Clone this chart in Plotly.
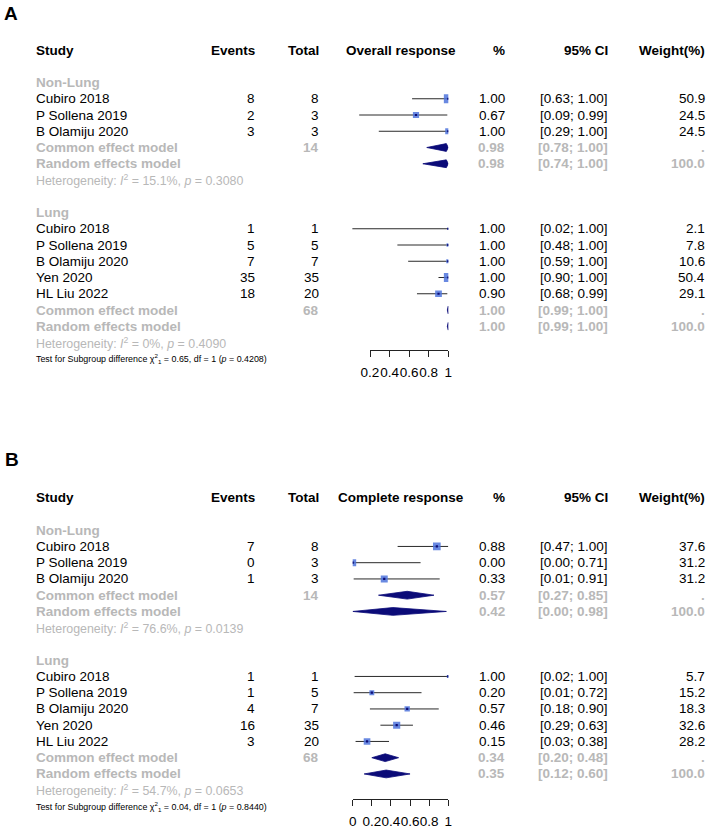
import plotly.graph_objects as go

W, H = 709, 830
ROW = 16.25
FONT = "Liberation Sans, Arial, sans-serif"
GRAY = "#b8b8b8"
SQ = "#4f74dc"
NAVY = "#0b0b78"
FS = 13.5

# ---------------- Panel A : Overall response ----------------
A_title = "Overall response"
A_nl_study = ["Cubiro 2018", "P Sollena 2019", "B Olamiju 2020"]
A_nl_events = [8, 2, 3]
A_nl_total = [8, 3, 3]
A_nl_prop = [1.00, 0.67, 1.00]
A_nl_lo = [0.63, 0.09, 0.29]
A_nl_hi = [1.00, 0.99, 1.00]
A_nl_w = [50.9, 24.5, 24.5]
A_nl_common = [0.98, 0.78, 1.00]
A_nl_random = [0.98, 0.74, 1.00]
A_nl_n = 14
A_nl_het = ["15.1%", "0.3080"]

A_lu_study = ["Cubiro 2018", "P Sollena 2019", "B Olamiju 2020", "Yen 2020", "HL Liu 2022"]
A_lu_events = [1, 5, 7, 35, 18]
A_lu_total = [1, 5, 7, 35, 20]
A_lu_prop = [1.00, 1.00, 1.00, 1.00, 0.90]
A_lu_lo = [0.02, 0.48, 0.59, 0.90, 0.68]
A_lu_hi = [1.00, 1.00, 1.00, 1.00, 0.99]
A_lu_w = [2.1, 7.8, 10.6, 50.4, 29.1]
A_lu_common = [1.00, 0.99, 1.00]
A_lu_random = [1.00, 0.99, 1.00]
A_lu_n = 68
A_lu_het = ["0%", "0.4090"]
A_test = ["0.65", "1", "0.4208"]
A_tickvals = [0.2, 0.4, 0.6, 0.8, 1.0]
A_ticktext = ["0.2", "0.4", "0.6", "0.8", "1"]

# ---------------- Panel B : Complete response ----------------
B_title = "Complete response"
B_nl_study = ["Cubiro 2018", "P Sollena 2019", "B Olamiju 2020"]
B_nl_events = [7, 0, 1]
B_nl_total = [8, 3, 3]
B_nl_prop = [0.88, 0.00, 0.33]
B_nl_lo = [0.47, 0.00, 0.01]
B_nl_hi = [1.00, 0.71, 0.91]
B_nl_w = [37.6, 31.2, 31.2]
B_nl_common = [0.57, 0.27, 0.85]
B_nl_random = [0.42, 0.00, 0.98]
B_nl_n = 14
B_nl_het = ["76.6%", "0.0139"]

B_lu_study = ["Cubiro 2018", "P Sollena 2019", "B Olamiju 2020", "Yen 2020", "HL Liu 2022"]
B_lu_events = [1, 1, 4, 16, 3]
B_lu_total = [1, 5, 7, 35, 20]
B_lu_prop = [1.00, 0.20, 0.57, 0.46, 0.15]
B_lu_lo = [0.02, 0.01, 0.18, 0.29, 0.03]
B_lu_hi = [1.00, 0.72, 0.90, 0.63, 0.38]
B_lu_w = [5.7, 15.2, 18.3, 32.6, 28.2]
B_lu_common = [0.34, 0.20, 0.48]
B_lu_random = [0.35, 0.12, 0.60]
B_lu_n = 68
B_lu_het = ["54.7%", "0.0653"]
B_test = ["0.04", "1", "0.8440"]
B_tickvals = [0.0, 0.2, 0.4, 0.6, 0.8, 1.0]
B_ticktext = ["0", "0.2", "0.4", "0.6", "0.8", "1"]

group_names = ["Non-Lung", "Lung"]
model_names = ["Common effect model", "Random effects model"]

fig = go.Figure()
annotations = []


def px(x):
    return x / W


def txt(x, row, text, yref, anchor="left", color="black", size=FS, bold=False):
    if bold:
        text = "<b>" + text + "</b>"
    annotations.append(dict(
        x=px(x), xref="paper", y=row, yref=yref, text=text, showarrow=False,
        xanchor=anchor, yanchor="middle", align=anchor, borderpad=0,
        font=dict(family=FONT, size=size, color=color)))


def panel(xa, ya, yref, title, groups, test):
    # header row 0
    txt(35, 0, "Study", yref, bold=True)
    txt(256, 0, "Events", yref, "right", bold=True)
    txt(320, 0, "Total", yref, "right", bold=True)
    txt(400.5, 0, title, yref, "center", bold=True)
    txt(506, 0, "%", yref, "right", bold=True)
    txt(608.5, 0, "95% CI", yref, "right", bold=True)
    txt(706, 0, "Weight(%)", yref, "right", bold=True)
    row = 2
    for gname, g in zip(group_names, groups):
        study, ev, tot, prop, lo, hi, w, com, ran, n, het = g
        txt(35, row, gname, yref, color=GRAY, bold=True)
        rows = []
        for i in range(len(study)):
            r = row + 1 + i
            rows.append(r)
            txt(35, r, study[i], yref)
            txt(256, r, str(ev[i]), yref, "right")
            txt(320, r, str(tot[i]), yref, "right")
            txt(506, r, f"{prop[i]:.2f}", yref, "right")
            txt(608.5, r, f"[{lo[i]:.2f}; {hi[i]:.2f}]", yref, "right")
            txt(706, r, f"{w[i]:.1f}", yref, "right")
        # CI lines
        lx, ly = [], []
        for r, a, b in zip(rows, lo, hi):
            lx += [a, b, None]
            ly += [r, r, None]
        fig.add_trace(go.Scatter(x=lx, y=ly, mode="lines", xaxis=xa, yaxis=ya,
                                 line=dict(color="#2a2a2a", width=1), hoverinfo="skip"))
        fig.add_trace(go.Scatter(x=prop, y=rows, mode="markers", xaxis=xa, yaxis=ya,
                                 marker=dict(symbol="square", color=SQ, opacity=0.85,
                                             size=[1.25 * (v ** 0.5) for v in w],
                                             line=dict(width=0)), hoverinfo="skip"))
        fig.add_trace(go.Scatter(x=prop, y=rows, mode="markers", xaxis=xa, yaxis=ya,
                                 marker=dict(symbol="square", color=NAVY, size=2.2,
                                             line=dict(width=0)), hoverinfo="skip"))
        rc = row + 1 + len(study)
        rr = rc + 1
        for r, m, mname, lab, wt in [(rc, com, model_names[0], str(n), "."),
                                     (rr, ran, model_names[1], "", "100.0")]:
            est, a, b = m
            h = 0.24
            fig.add_trace(go.Scatter(x=[a, est, b, est, a], y=[r, r - h, r, r + h, r],
                                     mode="lines", fill="toself", fillcolor=NAVY,
                                     line=dict(color=NAVY, width=0.8),
                                     xaxis=xa, yaxis=ya, hoverinfo="skip"))
            txt(35, r, mname, yref, color=GRAY, bold=True)
            if lab:
                txt(320, r, lab, yref, "right", color=GRAY, bold=True)
            txt(506, r, f"{est:.2f}", yref, "right", color=GRAY, bold=True)
            txt(608.5, r, f"[{a:.2f}; {b:.2f}]", yref, "right", color=GRAY, bold=True)
            txt(706, r, wt, yref, "right", color=GRAY, bold=True)
        rh = rr + 1
        txt(35, rh, f"Heterogeneity: <i>I</i><sup>2</sup> = {het[0]}, <i>p</i> = {het[1]}",
            yref, color=GRAY, size=12.4)
        row = rh + 2
    txt(35, row - 1, f"Test for Subgroup difference χ<sup>2</sup><sub>1</sub> = {test[0]}, "
                     f"df = {test[1]} (<i>p</i> = {test[2]})", yref, size=8.9)


A_groups = [
    (A_nl_study, A_nl_events, A_nl_total, A_nl_prop, A_nl_lo, A_nl_hi, A_nl_w,
     A_nl_common, A_nl_random, A_nl_n, A_nl_het),
    (A_lu_study, A_lu_events, A_lu_total, A_lu_prop, A_lu_lo, A_lu_hi, A_lu_w,
     A_lu_common, A_lu_random, A_lu_n, A_lu_het),
]
B_groups = [
    (B_nl_study, B_nl_events, B_nl_total, B_nl_prop, B_nl_lo, B_nl_hi, B_nl_w,
     B_nl_common, B_nl_random, B_nl_n, B_nl_het),
    (B_lu_study, B_lu_events, B_lu_total, B_lu_prop, B_lu_lo, B_lu_hi, B_lu_w,
     B_lu_common, B_lu_random, B_lu_n, B_lu_het),
]

panel("x", "y", "y", A_title, A_groups, A_test)
panel("x2", "y2", "y2", B_title, B_groups, B_test)

# invisible traces to anchor the display axes
fig.add_trace(go.Scatter(x=A_tickvals, y=[None] * len(A_tickvals), xaxis="x3", yaxis="y",
                         mode="markers", showlegend=False, hoverinfo="skip"))
fig.add_trace(go.Scatter(x=B_tickvals, y=[None] * len(B_tickvals), xaxis="x4", yaxis="y2",
                         mode="markers", showlegend=False, hoverinfo="skip"))

# panel letters
annotations.append(dict(x=px(3), xref="paper", y=1 - 13.5 / H, yref="paper", text="<b>A</b>",
                        showarrow=False, xanchor="left", yanchor="middle", borderpad=0,
                        font=dict(family=FONT, size=19, color="black")))
annotations.append(dict(x=px(3.5), xref="paper", y=1 - 459.5 / H, yref="paper", text="<b>B</b>",
                        showarrow=False, xanchor="left", yanchor="middle", borderpad=0,
                        font=dict(family=FONT, size=19, color="black")))

hidden = dict(visible=False, showgrid=False, zeroline=False, fixedrange=True, automargin=False)
axis_style = dict(showline=True, linecolor="#222", linewidth=1, ticks="outside", ticklen=6,
                  tickcolor="#222", tickwidth=1, showgrid=False, zeroline=False,
                  tickangle=0, tickfont=dict(family=FONT, size=FS, color="black"),
                  ticklabelstandoff=4, fixedrange=True, anchor="free", automargin=False)

HEAD_A, HEAD_B = 50.0, 497.7
fig.update_layout(
    template="none",
    width=W, height=H, margin=dict(l=0, r=0, t=0, b=0, pad=0, autoexpand=False),
    paper_bgcolor="white", plot_bgcolor="rgba(0,0,0,0)", showlegend=False,
    xaxis=dict(domain=[350.4 / W, 448.3 / W], range=[0, 1], **hidden),
    xaxis2=dict(domain=[352.7 / W, 448.3 / W], range=[0, 1], **hidden),
    xaxis3=dict(domain=[370.0 / W, 448.3 / W], range=[0.2, 1], tickvals=A_tickvals,
                ticktext=A_ticktext, position=1 - 350 / H, **axis_style),
    xaxis4=dict(domain=[352.7 / W, 448.3 / W], range=[0, 1], tickvals=B_tickvals,
                ticktext=B_ticktext, position=1 - 799 / H, **axis_style),
    yaxis=dict(domain=[1 - 415 / H, 1], range=[(415 - HEAD_A) / ROW, (0 - HEAD_A) / ROW],
               anchor="x", **hidden),
    yaxis2=dict(domain=[0, 1 - 415 / H], range=[(830 - HEAD_B) / ROW, (415 - HEAD_B) / ROW],
                anchor="x2", **hidden),
    annotations=annotations,
)

fig.write_html("out.html")
